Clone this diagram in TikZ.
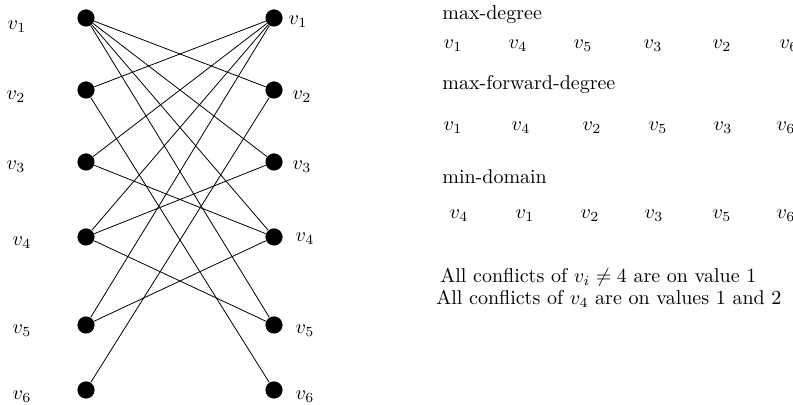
\documentclass[tikz,border=0pt]{standalone}
\usepackage{amsmath,amssymb}
\usepackage{xcolor}
\usetikzlibrary{positioning}

\begin{document}
\begin{tikzpicture}[x=0.5pt,y=-0.5pt,
  vtx/.style={circle,fill=black,inner sep=0pt,minimum size=8.6pt},
  lbl/.style={inner sep=0pt},
  txt/.style={inner sep=0pt,anchor=west}]
\useasboundingbox (0,0) rectangle (793,405);
% left column
\node[vtx] (l1) at (86,18) {};
\node[vtx] (l2) at (86,90) {};
\node[vtx] (l3) at (86,162) {};
\node[vtx] (l4) at (86,237) {};
\node[vtx] (l5) at (86,325) {};
\node[vtx] (l6) at (86,390) {};
\node[lbl] (ll1) at (17,27) {$v_1$};
\node[lbl] (ll2) at (16,97) {$v_2$};
\node[lbl] (ll3) at (16,167) {$v_3$};
\node[lbl] (ll4) at (22,243) {$v_4$};
\node[lbl] (ll5) at (22,331) {$v_5$};
\node[lbl] (ll6) at (22,397) {$v_6$};
% right column
\node[vtx] (r1) at (274,18) {};
\node[vtx] (r2) at (274,90) {};
\node[vtx] (r3) at (274,162) {};
\node[vtx] (r4) at (274,237) {};
\node[vtx] (r5) at (274,325) {};
\node[vtx] (r6) at (274,390) {};
\node[lbl] (rl1) at (298,22) {$v_1$};
\node[lbl] (rl2) at (302,97) {$v_2$};
\node[lbl] (rl3) at (302,167) {$v_3$};
\node[lbl] (rl4) at (305,239) {$v_4$};
\node[lbl] (rl5) at (305,331) {$v_5$};
\node[lbl] (rl6) at (305,397) {$v_6$};
% constraints
\draw (l1)--(r2) (l1)--(r3) (l1)--(r4) (l1)--(r5);
\draw (r1)--(l2) (r1)--(l3) (r1)--(l4) (r1)--(l5);
\draw (l2)--(r6) (r2)--(l6);
\draw (l3)--(r4) (r3)--(l4);
\draw (l4)--(r5) (r4)--(l5);
% orderings
\node[txt] (h1) at (442,15) {max-degree};
\node[lbl] (a1) at (453,46) {$v_1$};
\node[lbl] (a2) at (518,46) {$v_4$};
\node[lbl] (a3) at (583,46) {$v_5$};
\node[lbl] (a4) at (653,46) {$v_3$};
\node[lbl] (a5) at (722,46) {$v_2$};
\node[lbl] (a6) at (789,46) {$v_6$};
\node[txt] (h2) at (442,85) {max-forward-degree};
\node[lbl] (b1) at (453,128) {$v_1$};
\node[lbl] (b2) at (521,128) {$v_4$};
\node[lbl] (b3) at (592,128) {$v_2$};
\node[lbl] (b4) at (658,128) {$v_5$};
\node[lbl] (b5) at (723,128) {$v_3$};
\node[lbl] (b6) at (786,128) {$v_6$};
\node[txt] (h3) at (442,177) {min-domain};
\node[lbl] (c1) at (459,216) {$v_4$};
\node[lbl] (c2) at (525,216) {$v_1$};
\node[lbl] (c3) at (590,216) {$v_2$};
\node[lbl] (c4) at (654,216) {$v_3$};
\node[lbl] (c5) at (722,216) {$v_5$};
\node[lbl] (c6) at (786,216) {$v_6$};
% conflicts
\node[txt] (n1) at (440,277) {All conflicts of $v_i \neq 4$ are on value 1};
\node[txt] (n2) at (436,299) {All conflicts of $v_4$ are on values 1 and 2};
\end{tikzpicture}
\end{document}
